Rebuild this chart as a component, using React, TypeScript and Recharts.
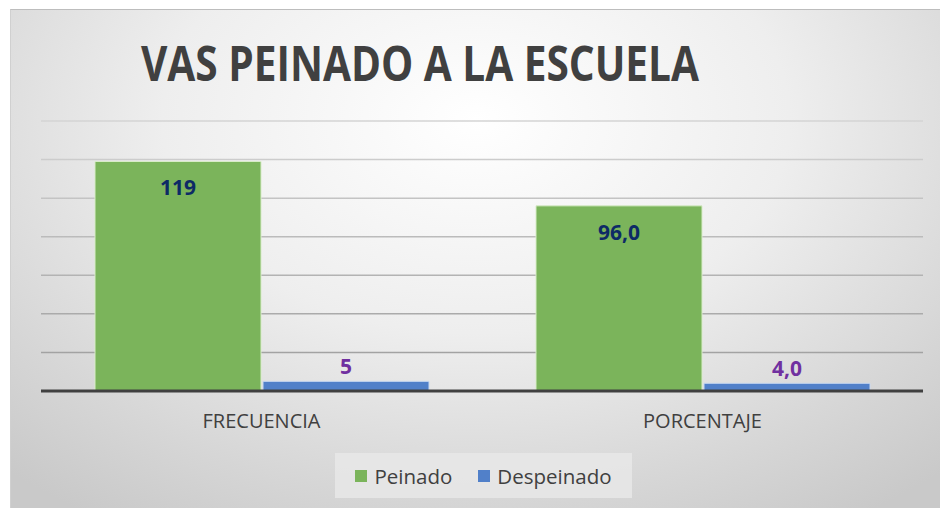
import { BarChart, Bar, XAxis, YAxis, CartesianGrid, LabelList } from 'recharts'

const categories = ['FRECUENCIA', 'PORCENTAJE']
const peinado = [119, 96.0]
const despeinado = [5, 4.0]
const peinadoLabels = ['119', '96,0']
const despeinadoLabels = ['5', '4,0']
const yTicks = [0, 20, 40, 60, 80, 100, 120, 140]

const GREEN = '#7bb45b'
const BLUE = '#5180c9'
const FONT = '"Open Sans", "Noto Sans", sans-serif'

const data = categories.map((name, i) => ({
  name,
  peinado: peinado[i],
  despeinado: despeinado[i],
  peinadoLabel: peinadoLabels[i],
  despeinadoLabel: despeinadoLabels[i],
}))

const legendItems = [
  { name: 'Peinado', color: GREEN },
  { name: 'Despeinado', color: BLUE },
]

function CategoryTick({ x, y, payload }: { x?: number; y?: number; payload?: { value: string } }) {
  return (
    <text x={x} y={(y ?? 0) + 29} textAnchor="middle" fill="#404040" fontSize={20} fontFamily={FONT}>
      {payload?.value}
    </text>
  )
}

export default function App() {
  return (
    <div
      style={{
        position: 'absolute',
        left: 10,
        top: 9,
        width: 930,
        height: 499,
        background: 'radial-gradient(ellipse 75% 95% at 50% 22%, #ffffff 0%, #eeeeee 45%, #d6d6d6 80%, #c9c9c9 100%)',
        borderTop: '1px solid #bdbdbd',
        borderLeft: '1px solid #d0d0d0',
        fontFamily: FONT,
      }}
    >
      <svg width={930} height={100} style={{ position: 'absolute', left: 0, top: 0 }}>
        <text x={130} y={71} fontSize={48} fontWeight="bold" fill="#404040" fontFamily={FONT} textLength={558} lengthAdjust="spacingAndGlyphs">
          VAS PEINADO A LA ESCUELA
        </text>
      </svg>
      <BarChart
        width={930}
        height={499}
        data={data}
        margin={{ top: 111, right: 18, left: 30, bottom: 78 }}
        barCategoryGap={54}
        barGap={2}
        style={{ position: 'absolute', left: 0, top: 0 }}
      >
        <defs>
          <linearGradient id="gridGrad" gradientUnits="userSpaceOnUse" x1="0" y1="111" x2="0" y2="381">
            <stop offset="0%" stopColor="#d4d4d4" />
            <stop offset="100%" stopColor="#9a9a9a" />
          </linearGradient>
        </defs>
        <CartesianGrid vertical={false} stroke="url(#gridGrad)" strokeWidth={1.5} />
        <YAxis hide domain={[0, 140]} ticks={yTicks} />
        <XAxis
          dataKey="name"
          height={40}
          tickLine={false}
          axisLine={{ stroke: '#404040', strokeWidth: 3 }}
          tick={<CategoryTick />}
        />
        <Bar dataKey="peinado" fill={GREEN} stroke="#d8ecc8" strokeWidth={1} isAnimationActive={false}>
          <LabelList dataKey="peinadoLabel" position="insideTop" offset={19} fill="#0d2a66" fontSize={21} fontWeight="bold" fontFamily={FONT} />
        </Bar>
        <Bar dataKey="despeinado" fill={BLUE} stroke="#c9d8f0" strokeWidth={1} isAnimationActive={false}>
          <LabelList dataKey="despeinadoLabel" position="top" offset={7} fill="#7030a0" fontSize={21} fontWeight="bold" fontFamily={FONT} />
        </Bar>
      </BarChart>
      <div
        style={{
          position: 'absolute',
          left: 324,
          top: 443,
          width: 297,
          height: 45,
          background: 'rgba(232,232,232,0.8)',
          display: 'flex',
          alignItems: 'center',
          justifyContent: 'center',
          gap: 26,
          fontSize: 20.5,
          color: '#404040',
        }}
      >
        {legendItems.map(item => (
          <div key={item.name} style={{ display: 'flex', alignItems: 'center', gap: 7 }}>
            <span style={{ width: 12, height: 12, background: item.color, display: 'inline-block' }} />
            <span>{item.name}</span>
          </div>
        ))}
      </div>
    </div>
  )
}
